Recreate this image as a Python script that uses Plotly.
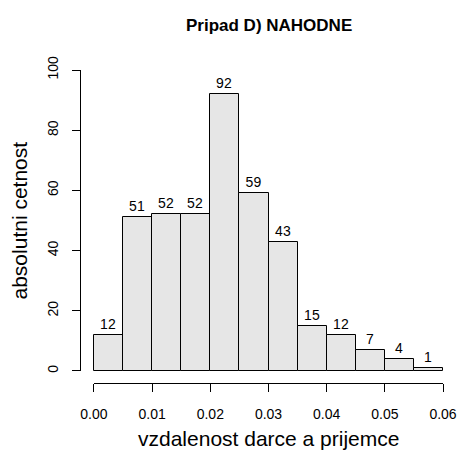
import plotly.graph_objects as go

# Data
bin_edges = [0.000, 0.005, 0.010, 0.015, 0.020, 0.025, 0.030, 0.035, 0.040, 0.045, 0.050, 0.055, 0.060]
counts = [12, 51, 52, 52, 92, 59, 43, 15, 12, 7, 4, 1]
x_ticks = [0.00, 0.01, 0.02, 0.03, 0.04, 0.05, 0.06]
x_tick_labels = ["0.00", "0.01", "0.02", "0.03", "0.04", "0.05", "0.06"]
y_ticks = [0, 20, 40, 60, 80, 100]
title = "Pripad D) NAHODNE"
x_title = "vzdalenost darce a prijemce"
y_title = "absolutni cetnost"

centers = [(a + b) / 2 for a, b in zip(bin_edges[:-1], bin_edges[1:])]
widths = [b - a for a, b in zip(bin_edges[:-1], bin_edges[1:])]

# R-style ranges (4% extension)
xlo, xhi = bin_edges[0], bin_edges[-1]
ylo, yhi = 0, 100
xr = [xlo - 0.04 * (xhi - xlo), xhi + 0.04 * (xhi - xlo)]
yr = [ylo - 0.04 * (yhi - ylo), yhi + 0.04 * (yhi - ylo)]
xd = [(xlo - xr[0]) / (xr[1] - xr[0]), (xhi - xr[0]) / (xr[1] - xr[0])]
yd = [(ylo - yr[0]) / (yr[1] - yr[0]), (yhi - yr[0]) / (yr[1] - yr[0])]

FONT = "Liberation Sans, Arial, sans-serif"

fig = go.Figure()
# invisible trace to carry the R-style detached axes
fig.add_trace(go.Scatter(
    x=[xlo, xhi], y=[ylo, yhi], mode="markers",
    marker=dict(opacity=0), xaxis="x2", yaxis="y2",
    showlegend=False, hoverinfo="skip",
))
fig.add_trace(go.Bar(
    x=centers, y=counts, width=widths,
    marker=dict(color="#E6E6E6", line=dict(color="black", width=1)),
    text=[str(c) for c in counts], textposition="outside",
    textfont=dict(family=FONT, size=14, color="black"),
    cliponaxis=False, xaxis="x", yaxis="y", showlegend=False,
    hoverinfo="skip",
))

axfont = dict(family=FONT, size=14, color="black")
fig.update_layout(
    width=462, height=450,
    margin=dict(l=80, r=5, t=58, b=67, autoexpand=False),
    paper_bgcolor="white", plot_bgcolor="rgba(0,0,0,0)",
    bargap=0,
    font=dict(family=FONT, color="black"),
    xaxis=dict(range=xr, domain=[0, 1], visible=False, fixedrange=True,
               automargin=False),
    yaxis=dict(range=yr, domain=[0, 1], visible=False, fixedrange=True,
               automargin=False),
    xaxis2=dict(range=[xlo, xhi], domain=xd, anchor="free", position=0,
                showline=True, linecolor="black", linewidth=1,
                ticks="outside", ticklen=8, tickcolor="black", tickwidth=1,
                tickvals=x_ticks, ticktext=x_tick_labels, tickfont=axfont,
                ticklabelstandoff=10, automargin=False,
                showgrid=False, zeroline=False, fixedrange=True),
    yaxis2=dict(range=[ylo, yhi], domain=yd, anchor="free", position=0,
                showline=True, linecolor="black", linewidth=1,
                ticks="outside", ticklen=8, tickcolor="black", tickwidth=1,
                tickvals=y_ticks, tickfont=axfont, tickangle=-90,
                ticklabelstandoff=8, automargin=False,
                showgrid=False, zeroline=False, fixedrange=True),
    annotations=[
        dict(text="<b>" + title + "</b>", xref="paper", yref="paper",
             x=0.5, y=1, yshift=33, xanchor="center", yanchor="middle",
             showarrow=False,
             font=dict(family=FONT, size=17, color="black")),
        dict(text=x_title, xref="paper", yref="paper", x=0.5, y=0,
             yshift=-55, xanchor="center", yanchor="middle", showarrow=False,
             font=dict(family=FONT, size=21, color="black")),
        dict(text=y_title, xref="paper", yref="paper", x=0, y=0.5,
             xshift=-61, xanchor="center", yanchor="middle",
             textangle=-90, showarrow=False,
             font=dict(family=FONT, size=21, color="black")),
    ],
)

fig.write_html("out.html")
